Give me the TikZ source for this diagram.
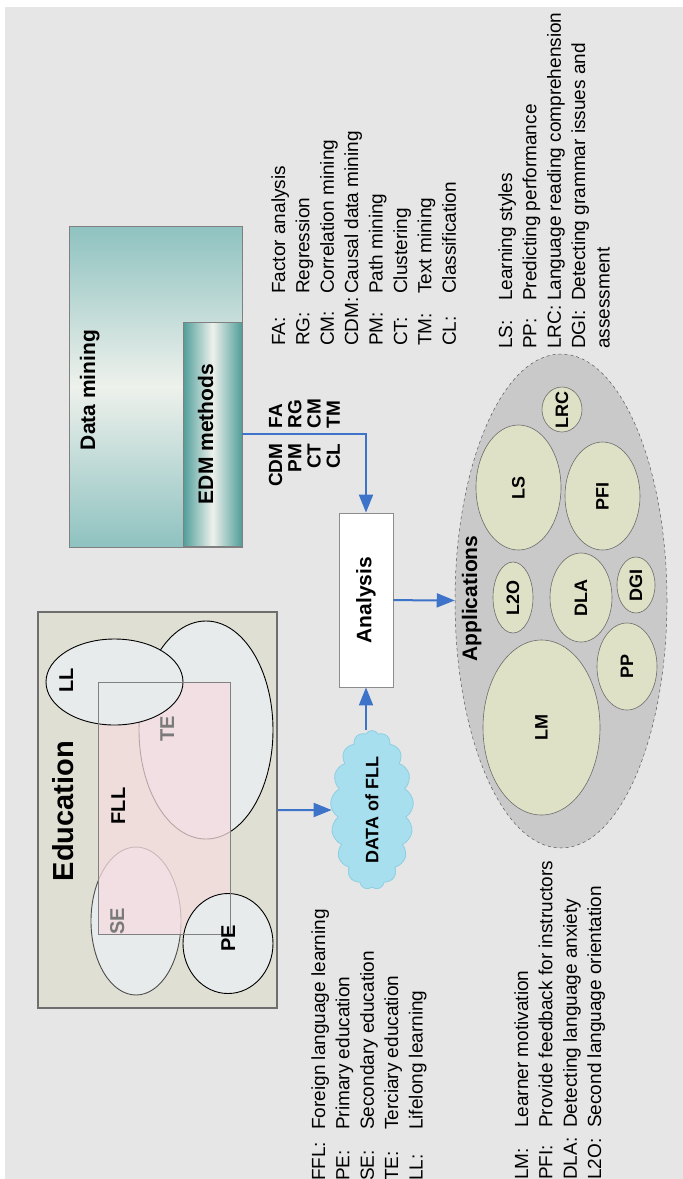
\documentclass[tikz,border=0pt]{standalone}
\usepackage{fontspec}
\setmainfont{Liberation Sans}
\usepackage{graphicx}
\usetikzlibrary{arrows.meta,shapes.geometric,shapes.symbols}
\definecolor{PageGray}{HTML}{E6E6E6}
\definecolor{EduFill}{HTML}{DFE0D3}
\definecolor{EduEdge}{HTML}{6E6E6E}
\definecolor{SetFill}{HTML}{E8EBEC}
\definecolor{FLLPink}{HTML}{F5DCE0}
\definecolor{MineTeal}{HTML}{8EC2C0}
\definecolor{MineLight}{HTML}{EEF1EC}
\definecolor{EDMTeal}{HTML}{4F9D99}
\definecolor{CloudBlue}{HTML}{A8DFEF}
\definecolor{CloudEdge}{HTML}{8DCFE2}
\definecolor{FlowBlue}{HTML}{3D73C9}
\definecolor{AppGray}{HTML}{C9C9C9}
\definecolor{AppFill}{HTML}{DFE1C6}
\definecolor{SoftGray}{HTML}{7A7A7A}
\newcommand{\turned}[1]{\rotatebox{90}{#1}}

\begin{document}
\begin{tikzpicture}[x=1pt, y=-1pt,
  every node/.style={font=\fontsize{19}{24.4}\selectfont, inner sep=0pt},
  heading/.style={font=\bfseries\fontsize{21}{21}\selectfont},
  tag/.style={font=\bfseries\fontsize{18}{18}\selectfont},
  setlabel/.style={rotate=90, anchor=base, font=\bfseries\fontsize{20}{20}\selectfont},
  setshape/.style={fill=SetFill, draw=black, line width=0.9pt},
  appitem/.style={ellipse, fill=AppFill, draw=gray!85!black, line width=0.6pt},
  flow/.style={draw=FlowBlue, line width=2pt, -{Triangle[length=18pt,width=14pt]}}]
  \useasboundingbox (0,0) rectangle (683,1179);
  \fill[PageGray] (5,7) rectangle (683,1179);

  % education
  \node[rectangle, fill=EduFill, draw=EduEdge, line width=1.2pt, minimum width=239pt, minimum height=396pt] (edu) at (157.5,810) {};
  \draw[setshape] (206,730) ellipse [x radius=67, y radius=109];
  \draw[setshape, draw=black!70] (136,921) ellipse [x radius=45, y radius=74];
  \fill[FLLPink, fill opacity=0.75] (98,682) rectangle (230,934);
  \draw[setshape] (114.5,682) ellipse [x radius=68.5, y radius=43];
  \draw[setshape] (228,943.5) ellipse [x radius=45, y radius=50];
  \draw[gray, line width=0.8pt] (98,682) rectangle (230,934);

  \node[rotate=90, anchor=base, font=\bfseries\fontsize{29}{29}\selectfont] (edutitle) at (73,811) {Education};
  \node[setlabel] (lltag) at (73,680) {LL};
  \node[setlabel] (flltag) at (125,806) {FLL};
  \node[setlabel, text=SoftGray] (tetag) at (174,729) {TE};
  \node[setlabel, text=SoftGray] (setag) at (124,921) {SE};
  \node[setlabel] (petag) at (235,938) {PE};

  \node[cloud, cloud puffs=17, cloud puff arc=120, cloud ignores aspect, minimum width=83pt, minimum height=159pt,
        fill=CloudBlue, draw=CloudEdge, line width=0.8pt,
        label={[tag]center:\turned{DATA of FLL}}] (data) at (372,810) {};

  % data mining
  \node[rectangle, draw=gray, top color=MineTeal, bottom color=MineTeal, middle color=MineLight,
        minimum width=173pt, minimum height=321pt] (mining) at (155.5,386.5) {};
  \node[rectangle, draw=gray, left color=EDMTeal, right color=EDMTeal, middle color=MineLight,
        minimum width=59pt, minimum height=224pt] (edm) at (212.5,434) {};
  \node[heading, rotate=90, anchor=base] (miningtitle) at (95,390) {Data mining};
  \node[heading, rotate=90, anchor=base] (edmtitle) at (213,434) {EDM methods};

  \node[rectangle, fill=white, draw=gray!90, line width=0.8pt, minimum width=54pt, minimum height=174pt, heading] (analysis) at (366,600) {\turned{Analysis}};

  % applications
  \node[ellipse, fill=AppGray, draw=gray!70!black, dashed, line width=0.5pt, minimum width=212pt, minimum height=494pt] (apps) at (561,601) {};
  \node[heading, rotate=90, anchor=base] (appstitle) at (477,598.5) {Applications};
  \node[appitem, minimum width=40pt, minimum height=45pt, label={[tag]center:\turned{LRC}}] (lrc) at (562,409.5) {};
  \node[appitem, minimum width=85pt, minimum height=125pt, label={[tag]center:\turned{LS}}] (ls) at (518.5,487.5) {};
  \node[appitem, minimum width=75pt, minimum height=108pt, label={[tag]center:\turned{PFI}}] (pfi) at (602.5,496) {};
  \node[appitem, minimum width=40pt, minimum height=71pt, label={[tag]center:\turned{L2O}}] (l2o) at (513,597.5) {};
  \node[appitem, minimum width=62pt, minimum height=89pt, label={[tag]center:\turned{DLA}}] (dla) at (581,597.5) {};
  \node[appitem, minimum width=38pt, minimum height=56pt, label={[tag]center:\turned{DGI}}] (dgi) at (636,585) {};
  \node[appitem, minimum width=60pt, minimum height=87pt, label={[tag]center:\turned{PP}}] (pp) at (627,666.5) {};
  \node[appitem, minimum width=117pt, minimum height=175pt, label={[tag]center:\turned{LM}}] (lm) at (541.5,727.5) {};

  % flows
  \draw[flow] (edu) -- (data);
  \draw[flow] (data.north -| analysis) -- (analysis);
  \draw[flow] (edm) -| (analysis);
  \draw[flow] (analysis) -- (apps);

  \node[rotate=90, anchor=base west, font=\bfseries\fontsize{19}{19.3}\selectfont] (methodtags) at (282,487)
    {\begin{tabular}[t]{@{}r@{\hspace{15pt}}l@{}}CDM & FA\\ PM & RG\\ CT & CM\\ CL & TM\end{tabular}};

  % keys
  \node[rotate=90, anchor=base west] (methodkey) at (285,346)
    {\begin{tabular}[t]{@{}p{52pt}@{}l@{}}FA: & Factor analysis\\ RG: & Regression\\ CM: & Correlation mining\\
     CDM: & Causal data mining\\ PM: & Path mining\\ CT: & Clustering\\ TM: & Text mining\\ CL: & Classification\end{tabular}};
  \node[rotate=90, anchor=base west] (appkeyone) at (512,349)
    {\begin{tabular}[t]{@{}p{48pt}@{}l@{}}LS: & Learning styles\\ PP: & Predicting performance\\
     LRC: & Language reading comprehension\\ DGI: & Detecting grammar issues and\\ \multicolumn{2}{@{}l@{}}{assessment}\end{tabular}};
  \node[rotate=90, anchor=base west] (edukey) at (325,1181)
    {\begin{tabular}[t]{@{}p{51pt}@{}l@{}}FFL: & Foreign language learning\\ PE: & Primary education\\ SE: & Secondary education\\
     TE: & Terciary education\\ LL: & Lifelong learning\end{tabular}};
  \node[rotate=90, anchor=base west] (appkeytwo) at (528,1180)
    {\begin{tabular}[t]{@{}p{52pt}@{}l@{}}LM: & Learner motivation\\ PFI: & Provide feedback for instructors\\
     DLA: & Detecting language anxiety\\ L2O: & Second language orientation\end{tabular}};
\end{tikzpicture}
\end{document}
